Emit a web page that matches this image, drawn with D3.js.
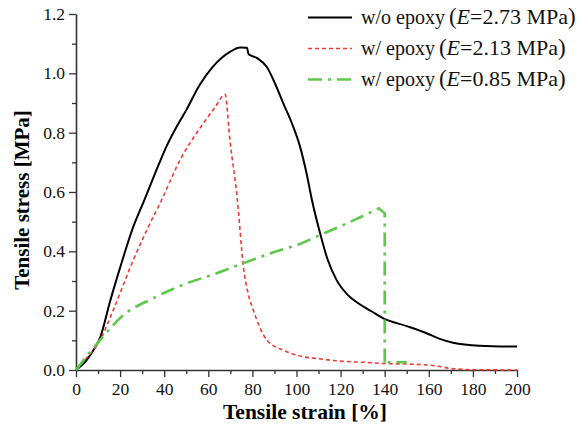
<html>
<head>
<style>
  body { margin: 0; background: #fff; }
  text { font-family: "Liberation Serif", "Times New Roman", serif; }
</style>
</head>
<body>
<script src="https://d3js.org/d3.v7.min.js"></script>
<script>
  // w/o epoxy (E=2.73 MPa)
  var noEpoxy = [
    [0, 0], [5, 0.035], [8, 0.068], [11, 0.11], [15.4, 0.23], [20, 0.345], [26, 0.483], [31, 0.573],
    [36, 0.665], [41, 0.753], [46, 0.825], [50, 0.876], [56, 0.96], [62, 1.022], [66, 1.052],
    [70, 1.073], [74.4, 1.087], [77.5, 1.086], [78.3, 1.064], [82, 1.052], [86.5, 1.022],
    [90, 0.97], [94, 0.899], [98, 0.83], [101.6, 0.753], [104.5, 0.665], [107, 0.573],
    [110.7, 0.461], [114, 0.375], [118.2, 0.303], [123, 0.255], [128, 0.225], [134, 0.198],
    [139.4, 0.174], [150, 0.148], [159, 0.124], [165, 0.105], [171, 0.092], [183, 0.082], [200, 0.079]
  ];
  // w/ epoxy (E=2.13 MPa)
  var epoxyA = [
    [0, 0], [4, 0.034], [10.9, 0.101], [16.9, 0.202], [26, 0.371], [32, 0.47], [38.8, 0.573],
    [47.2, 0.708], [57.7, 0.831], [63, 0.885], [67.6, 0.929], [69.8, 0.775], [73.2, 0.573],
    [75.9, 0.348], [78, 0.26], [80.4, 0.202], [83, 0.15], [86.5, 0.101], [94, 0.067],
    [101.6, 0.047], [110, 0.038], [119.7, 0.030], [130, 0.026], [139.4, 0.022], [150, 0.02],
    [159, 0.017], [165, 0.012], [170, 0.005], [180, 0.001], [200, 0]
  ];
  // w/ epoxy (E=0.85 MPa)
  var epoxyB = [
    [0, 0], [10.9, 0.101], [21.5, 0.185], [35, 0.242], [50.2, 0.292], [63.8, 0.326],
    [75.9, 0.36], [92.5, 0.404], [100, 0.421], [110.7, 0.455], [122.8, 0.494], [137.3, 0.545],
    [140, 0.528], [140, 0.018], [141, 0.026], [150, 0.026]
  ];

  var seriesNames = ["w/o epoxy", "w/ epoxy", "w/ epoxy"];
  var moduli = ["=2.73 MPa", "=2.13 MPa", "=0.85 MPa"];
  var xTicks = [0, 20, 40, 60, 80, 100, 120, 140, 160, 180, 200];
  var yTicks = [0.0, 0.2, 0.4, 0.6, 0.8, 1.0, 1.2];

  var width = 580, height = 433;
  var plotLeft = 76, plotRight = 517, plotTop = 14, plotBottom = 370;

  var svg = d3.select('body').append('svg')
    .attr('width', width).attr('height', height);

  var x = d3.scaleLinear().domain([0, 200]).range([plotLeft, plotRight]);
  var y = d3.scaleLinear().domain([0, 1.2]).range([plotBottom, plotTop]);

  var axisColor = '#333';

  // minor ticks
  svg.append('g')
    .attr('transform', `translate(0,${plotBottom})`)
    .call(d3.axisBottom(x).tickValues(d3.range(10, 200, 20)).tickSize(4).tickFormat(''))
    .call(g => g.select('.domain').remove())
    .call(g => g.selectAll('line').attr('stroke', axisColor).attr('stroke-width', 1.3));
  svg.append('g')
    .attr('transform', `translate(${plotLeft},0)`)
    .call(d3.axisLeft(y).tickValues(d3.range(0.1, 1.2, 0.2)).tickSize(4).tickFormat(''))
    .call(g => g.select('.domain').remove())
    .call(g => g.selectAll('line').attr('stroke', axisColor).attr('stroke-width', 1.3));

  // X軸
  svg.append('g')
    .attr('transform', `translate(0,${plotBottom})`)
    .call(d3.axisBottom(x).tickValues(xTicks).tickSize(7).tickSizeOuter(0).tickPadding(6))
    .call(g => g.select('.domain').attr('stroke', axisColor).attr('stroke-width', 1.6))
    .call(g => g.selectAll('line').attr('stroke', axisColor).attr('stroke-width', 1.3))
    .call(g => g.selectAll('text').attr('font-size', 17.5).attr('fill', '#111')
      .style('font-family', '"Liberation Serif", serif'));

  // Y軸
  svg.append('g')
    .attr('transform', `translate(${plotLeft},0)`)
    .call(d3.axisLeft(y).tickValues(yTicks).tickFormat(d3.format('.1f')).tickSize(7).tickSizeOuter(0).tickPadding(4))
    .call(g => g.select('.domain').attr('stroke', axisColor).attr('stroke-width', 1.6))
    .call(g => g.selectAll('line').attr('stroke', axisColor).attr('stroke-width', 1.3))
    .call(g => g.selectAll('text').attr('font-size', 17.5).attr('fill', '#111')
      .style('font-family', '"Liberation Serif", serif'));

  // axis titles
  svg.append('text')
    .attr('x', 305).attr('y', 419)
    .attr('text-anchor', 'middle')
    .attr('font-size', 21.5).attr('font-weight', 'bold')
    .text('Tensile strain [%]');
  svg.append('text')
    .attr('transform', 'translate(29,200) rotate(-90)')
    .attr('text-anchor', 'middle')
    .attr('font-size', 21).attr('font-weight', 'bold')
    .text('Tensile stress [MPa]');

  var smooth = d3.line().x(d => x(d[0])).y(d => y(d[1])).curve(d3.curveMonotoneX);
  var straight = d3.line().x(d => x(d[0])).y(d => y(d[1]));

  var styles = [
    { color: '#000', width: 2, dash: null },
    { color: '#f03a32', width: 1.6, dash: '4,3' },
    { color: '#5cc94a', width: 2.6, dash: '14,6,3,6' }
  ];

  // green curve: smooth up to the peak, then straight break-down
  var peakIdx = 11;
  var green = epoxyB.slice(0, peakIdx + 1);
  var curves = [
    { d: smooth(noEpoxy), s: styles[0] },
    { d: smooth(epoxyA), s: styles[1] },
    { d: smooth(green) + straight(epoxyB.slice(peakIdx)).replace(/^M/, 'L'), s: styles[2] }
  ];

  svg.selectAll('path.curve')
    .data(curves)
    .enter()
    .append('path').attr('class', 'curve')
    .attr('d', d => d.d)
    .attr('fill', 'none')
    .attr('stroke', d => d.s.color)
    .attr('stroke-width', d => d.s.width)
    .attr('stroke-dasharray', d => d.s.dash);

  // legend
  var legend = svg.selectAll('g.legend')
    .data(seriesNames)
    .enter()
    .append('g').attr('class', 'legend')
    .attr('transform', (d, i) => `translate(308,${17.5 + i * 31})`);

  legend.append('line')
    .attr('x1', 0).attr('x2', 44)
    .attr('stroke', (d, i) => styles[i].color)
    .attr('stroke-width', (d, i) => styles[i].width)
    .attr('stroke-dasharray', (d, i) => styles[i].dash);

  var lt = legend.append('text')
    .attr('x', 53).attr('y', 6.5)
    .attr('fill', '#111');
  lt.append('tspan').attr('font-size', 20).text(d => d);
  lt.append('tspan').attr('font-size', 23).attr('dx', 4).text('(');
  lt.append('tspan').attr('font-size', 22).attr('font-style', 'italic').text('E');
  lt.append('tspan').attr('font-size', 22).text((d, i) => moduli[i]);
  lt.append('tspan').attr('font-size', 23).text(')');
</script>
</body>
</html>
